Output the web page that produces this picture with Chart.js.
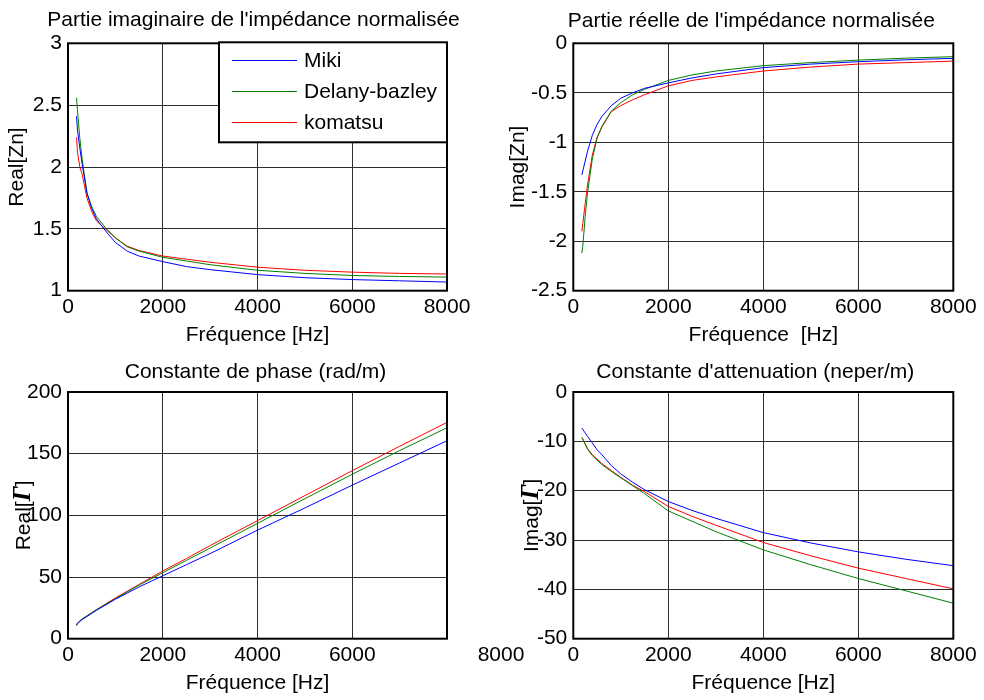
<!DOCTYPE html>
<html>
<head>
<meta charset="utf-8">
<script src="https://cdn.jsdelivr.net/npm/chart.js@4.4.1/dist/chart.umd.min.js"></script>
<style>
  body { margin: 0; background: #fff; width: 984px; height: 700px; position: relative; overflow: hidden; }
  .cell { position: absolute; }
</style>
</head>
<body>
<div class="cell" style="left:0;top:0"><canvas id="reZn" width="480" height="350"></canvas></div>
<div class="cell" style="left:480px;top:0"><canvas id="imZn" width="504" height="350"></canvas></div>
<div class="cell" style="left:0;top:350px"><canvas id="reGamma" width="530" height="350"></canvas></div>
<div class="cell" style="left:480px;top:350px"><canvas id="imGamma" width="504" height="350"></canvas></div>
<script>
// frequencies (Hz), shared by all four plots
const freq = [180, 200, 250, 300, 400, 500, 600, 800, 1000, 1250, 1500, 2000, 2500, 3000, 4000, 5000, 6000, 7000, 8000];
const seriesNames = ['Miki', 'Delany-bazley', 'komatsu'];
const seriesColors = ['#0000ff', '#008000', '#ff0000'];

// Real[Zn]
const reZnMiki    = [2.41, 2.30, 2.15, 2.02, 1.79, 1.665, 1.58, 1.48, 1.39, 1.32, 1.28, 1.235, 1.195, 1.17, 1.13, 1.105, 1.09, 1.08, 1.07];
const reZnDelany  = [2.56, 2.46, 2.23, 2.06, 1.79, 1.68, 1.60, 1.505, 1.427, 1.355, 1.32, 1.27, 1.24, 1.21, 1.165, 1.14, 1.123, 1.115, 1.11];
const reZnKomatsu = [2.24, 2.12, 2.00, 1.94, 1.75, 1.64, 1.565, 1.494, 1.427, 1.36, 1.325, 1.28, 1.255, 1.23, 1.19, 1.165, 1.15, 1.14, 1.135];

// Imag[Zn]
const imZnMiki    = [-1.33, -1.29, -1.19, -1.09, -0.93, -0.82, -0.74, -0.63, -0.555, -0.50, -0.455, -0.40, -0.35, -0.31, -0.246, -0.21, -0.186, -0.167, -0.152];
const imZnDelany  = [-2.12, -2.05, -1.75, -1.51, -1.17, -0.96, -0.84, -0.685, -0.60, -0.52, -0.465, -0.375, -0.32, -0.28, -0.226, -0.195, -0.17, -0.15, -0.135];
const imZnKomatsu = [-1.90, -1.82, -1.62, -1.43, -1.13, -0.95, -0.85, -0.69, -0.63, -0.57, -0.52, -0.43, -0.375, -0.34, -0.28, -0.24, -0.21, -0.195, -0.18];

// Real[Gamma] (rad/m)
const reGMiki    = [11.5, 12.5, 14, 15.5, 18, 20.5, 23, 27.5, 32, 37, 42, 51, 60, 69, 88, 106, 124.5, 142.5, 160.5];
const reGDelany  = [11, 12.5, 14.5, 16, 18.5, 21, 23.5, 28, 32.5, 38, 43.5, 53.5, 63.5, 73.5, 93.5, 113.5, 133.3, 152.5, 171];
const reGKomatsu = [10.5, 12, 14.5, 16, 18.5, 21, 23.5, 28.3, 33, 38.5, 44, 54.9, 65, 75.5, 95.7, 116, 136.2, 156, 175.4];

// Imag[Gamma] (neper/m)
const imGMiki    = [-7.3, -7.6, -8.3, -9.0, -10.3, -11.7, -12.7, -14.9, -16.6, -18.3, -19.8, -22.2, -24.0, -25.6, -28.5, -30.6, -32.4, -33.9, -35.2];
const imGDelany  = [-9.2, -9.5, -10.6, -11.6, -12.9, -13.8, -14.7, -16.1, -17.4, -19.0, -20.6, -24.1, -26.2, -28.3, -32.0, -35.0, -37.8, -40.3, -42.8];
const imGKomatsu = [-9.4, -9.6, -10.5, -11.5, -12.7, -13.6, -14.5, -15.9, -17.3, -18.9, -20.2, -23.2, -25.2, -27.0, -30.5, -33.2, -35.7, -37.8, -39.9];

const FAMILY = "'Liberation Sans', Arial, sans-serif";
const font = { family: FAMILY, size: 21, lineHeight: 1.2, weight: 'normal' };
const GRID = '#2e2e2e';

function makeDatasets(vals) {
  return vals.map((v, i) => ({
    label: seriesNames[i],
    data: freq.map((f, k) => ({ x: f, y: v[k] })),
    borderColor: seriesColors[i],
    backgroundColor: seriesColors[i],
    borderWidth: 1,
    pointRadius: 0,
    tension: 0,
    fill: false
  }));
}

// black box round the plot area
const framePlugin = {
  id: 'frame',
  afterDatasetsDraw(chart) {
    const { ctx, chartArea: a } = chart;
    ctx.save();
    ctx.strokeStyle = '#000';
    ctx.lineWidth = 2;
    ctx.strokeRect(a.left, a.top, a.right - a.left, a.bottom - a.top);
    ctx.restore();
  }
};

// plot title, centred over the axes like matlab does
function plotTitle(text, gap, dx) {
  return {
    id: 'plotTitle',
    afterDraw(chart) {
      const { ctx, chartArea: a } = chart;
      ctx.save();
      ctx.font = '21px ' + FAMILY;
      ctx.fillStyle = '#000';
      ctx.textAlign = 'center';
      ctx.textBaseline = 'alphabetic';
      ctx.fillText(text, (a.left + a.right) / 2 + dx, a.top - gap);
      ctx.restore();
    }
  };
}

// legend box drawn inside the top-left plot
const legendBox = {
  id: 'legendBox',
  afterDraw(chart) {
    const { ctx, chartArea: a } = chart;
    const w = 228, h = 100;
    const x0 = a.right - w, y0 = a.top - 1;
    ctx.save();
    ctx.fillStyle = '#fff';
    ctx.fillRect(x0, y0, w, h);
    ctx.strokeStyle = '#000';
    ctx.lineWidth = 2;
    ctx.strokeRect(x0, y0, w, h);
    ctx.font = '21px ' + FAMILY;
    ctx.textBaseline = 'middle';
    chart.data.datasets.forEach((ds, i) => {
      const y = Math.round(y0 + 18 + i * 31) + 0.5;
      ctx.strokeStyle = ds.borderColor;
      ctx.lineWidth = 1;
      ctx.beginPath();
      ctx.moveTo(x0 + 13, y);
      ctx.lineTo(x0 + 78, y);
      ctx.stroke();
      ctx.fillStyle = '#000';
      ctx.fillText(ds.label, x0 + 85, y + 1);
    });
    ctx.restore();
  }
};

// y label with a bold italic Gamma
function gammaLabel(prefix, xMid) {
  return {
    id: 'gammaLabel',
    afterDraw(chart) {
      const { ctx, chartArea: a } = chart;
      const parts = [
        [prefix + '[', '21px ' + FAMILY],
        ['\u0393', 'italic bold 25px "Liberation Serif", serif'],
        [']', '21px ' + FAMILY]
      ];
      ctx.save();
      let total = 0;
      const widths = parts.map(p => { ctx.font = p[1]; const w = ctx.measureText(p[0]).width; total += w; return w; });
      ctx.translate(xMid, (a.top + a.bottom) / 2);
      ctx.rotate(-Math.PI / 2);
      ctx.fillStyle = '#000';
      ctx.textBaseline = 'alphabetic';
      let x = -total / 2;
      parts.forEach((p, i) => {
        ctx.font = p[1];
        ctx.fillText(p[0], x, 7.3);
        x += widths[i];
      });
      ctx.restore();
    }
  };
}

// the last x tick label of the bottom-left plot sits off to the right
const strayTick = {
  id: 'strayTick',
  afterDraw(chart) {
    const { ctx } = chart;
    const xs = chart.scales.x;
    ctx.save();
    ctx.font = '21px ' + FAMILY;
    ctx.fillStyle = '#000';
    ctx.textAlign = 'center';
    ctx.textBaseline = 'middle';
    ctx.fillText('8000', xs.getPixelForValue(8000) + 54, xs.top + 4 + 12.6);
    ctx.restore();
  }
};

function makeChart(id, cfg) {
  return new Chart(document.getElementById(id), {
    type: 'line',
    data: { datasets: makeDatasets(cfg.values) },
    options: {
      responsive: false,
      animation: false,
      layout: { padding: { left: 0, right: cfg.padRight, top: cfg.padTop, bottom: 0 } },
      plugins: {
        legend: { display: false },
        tooltip: { enabled: false },
        title: { display: false }
      },
      scales: {
        x: {
          type: 'linear',
          min: 0,
          max: 8000,
          ticks: {
            stepSize: 2000,
            color: '#000',
            font: font,
            padding: 4,
            maxRotation: 0,
            callback: cfg.xTickCb || (v => String(v))
          },
          grid: { color: GRID, lineWidth: 1, drawTicks: false },
          border: { display: false },
          title: { display: true, text: cfg.xTitle, color: '#000', font: font, padding: { top: 0, bottom: cfg.xTitlePad } },
          afterFit(s) { s.height = cfg.xHeight; }
        },
        y: {
          type: 'linear',
          min: cfg.yMin,
          max: cfg.yMax,
          ticks: {
            stepSize: cfg.yStep,
            color: '#000',
            font: font,
            padding: 6,
            callback: v => String(v)
          },
          grid: { color: GRID, lineWidth: 1, drawTicks: false },
          border: { display: false },
          title: { display: !!cfg.yTitle, text: cfg.yTitle || '', color: '#000', font: font, padding: { top: cfg.yTitlePad, bottom: 0 } },
          afterFit(s) { s.width = cfg.yWidth; }
        }
      }
    },
    plugins: [framePlugin, plotTitle(cfg.title, cfg.titleGap, cfg.titleDx)].concat(cfg.extra || [])
  });
}

makeChart('reZn', {
  values: [reZnMiki, reZnDelany, reZnKomatsu],
  title: "Partie imaginaire de l'impédance normalisée",
  padTop: 43.3, titleGap: 17.3, titleDx: -4,
  padRight: 33,
  xTitle: 'Fréquence [Hz]', xTitlePad: 1.7, xHeight: 59.3,
  yTitle: 'Real[Zn]', yTitlePad: 5.1, yWidth: 68,
  yMin: 1, yMax: 3, yStep: 0.5,
  extra: [legendBox]
});

makeChart('imZn', {
  values: [imZnMiki, imZnDelany, imZnKomatsu],
  title: "Partie réelle de l'impédance normalisée",
  padTop: 43.3, titleGap: 16.8, titleDx: -12,
  padRight: 30.7,
  xTitle: 'Fréquence  [Hz]', xTitlePad: 1.7, xHeight: 59.3,
  yTitle: 'Imag[Zn]', yTitlePad: 25.8, yWidth: 93.3,
  yMin: -2.5, yMax: 0, yStep: 0.5
});

makeChart('reGamma', {
  values: [reGMiki, reGDelany, reGKomatsu],
  title: 'Constante de phase (rad/m)',
  padTop: 42, titleGap: 13.8, titleDx: -2,
  padRight: 83,
  xTitle: 'Fréquence [Hz]', xTitlePad: 4, xHeight: 61.3,
  xTickCb: v => (v === 8000 ? '' : String(v)),
  yTitle: null, yWidth: 68,
  yMin: 0, yMax: 200, yStep: 50,
  extra: [gammaLabel('Real', 22.7), strayTick]
});

makeChart('imGamma', {
  values: [imGMiki, imGDelany, imGKomatsu],
  title: "Constante d'attenuation (neper/m)",
  padTop: 42, titleGap: 13.8, titleDx: -8,
  padRight: 30.7,
  xTitle: 'Fréquence [Hz]', xTitlePad: 4, xHeight: 61.3,
  yTitle: null, yWidth: 93.3,
  yMin: -50, yMax: 0, yStep: 10,
  extra: [gammaLabel('Imag', 51)]
});
</script>
</body>
</html>
